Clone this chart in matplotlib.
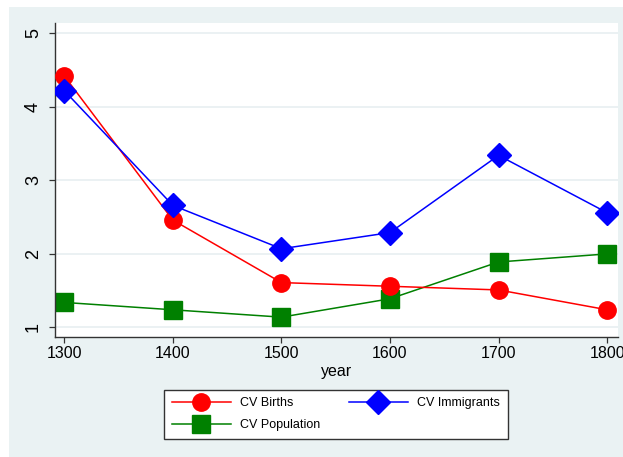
import matplotlib
matplotlib.use("Agg")
from matplotlib import pyplot as plt
from matplotlib.patches import Rectangle

# values
years = [1300, 1400, 1500, 1600, 1700, 1800]
cv_births = [4.42, 2.46, 1.61, 1.56, 1.51, 1.24]
cv_immigrants = [4.22, 2.66, 2.07, 2.29, 3.34, 2.56]
cv_population = [1.34, 1.24, 1.14, 1.39, 1.89, 2.00]

y_ticks = [1, 2, 3, 4, 5]

bg = "#EAF2F3"
plt.rcParams['font.family'] = ['Liberation Sans', 'DejaVu Sans']

W, H = 623, 457
fig = plt.figure(figsize=(W / 100, H / 100), dpi=100)
fig.patch.set_facecolor("white")
fig.patches.append(Rectangle((9 / W, 0), 1 - 9 / W, 1 - 7 / H,
                             transform=fig.transFigure, facecolor=bg,
                             edgecolor="none", zorder=-5))

ax = fig.add_axes([54.5 / W, 1 - 337 / H, (618 - 54.5) / W, (337 - 23) / H])
ax.set_facecolor("white")

l1, = ax.plot(years, cv_births, color="#FF0000", lw=1.1, marker="o",
              markersize=12.5, label="CV Births", zorder=3)
l3, = ax.plot(years, cv_immigrants, color="#0000FF", lw=1.1, marker="D",
              markersize=12, label="CV Immigrants", zorder=4)
l2, = ax.plot(years, cv_population, color="#008000", lw=1.1, marker="s",
              markersize=13, label="CV Population", zorder=2)

ax.set_xlim(1291, 1810)
ax.set_ylim(0.87, 5.14)
ax.set_xticks(years)
ax.set_yticks(y_ticks)
ax.grid(axis="y", color="#E6EEF0", lw=1.1, zorder=0)
ax.set_axisbelow(True)

for s in ["top", "right"]:
    ax.spines[s].set_visible(False)
for s in ["left", "bottom"]:
    ax.spines[s].set_color("#333333")
    ax.spines[s].set_linewidth(1.0)

ax.tick_params(axis="x", length=4, width=0.9, color="#333333",
               labelsize=11.5, pad=2.5)
ax.tick_params(axis="y", length=4, width=0.9, color="#333333",
               labelsize=13, pad=5)
for lab in ax.get_yticklabels():
    lab.set_rotation(90)
    lab.set_va("center")
ax.set_xlabel("year", fontsize=11.5, labelpad=2)

leg = fig.legend(handles=[l1, l2, l3], ncol=2, loc="center",
                 bbox_to_anchor=(336 / W, 1 - 414 / H),
                 bbox_transform=fig.transFigure, fontsize=9,
                 frameon=True, fancybox=False, edgecolor="#333333",
                 framealpha=1, handlelength=4.7, handletextpad=0.75,
                 columnspacing=2.3, borderpad=0.6, labelspacing=0.8)
leg.get_frame().set_linewidth(1.0)

fig.savefig("out.png", dpi=100, facecolor=fig.get_facecolor())
